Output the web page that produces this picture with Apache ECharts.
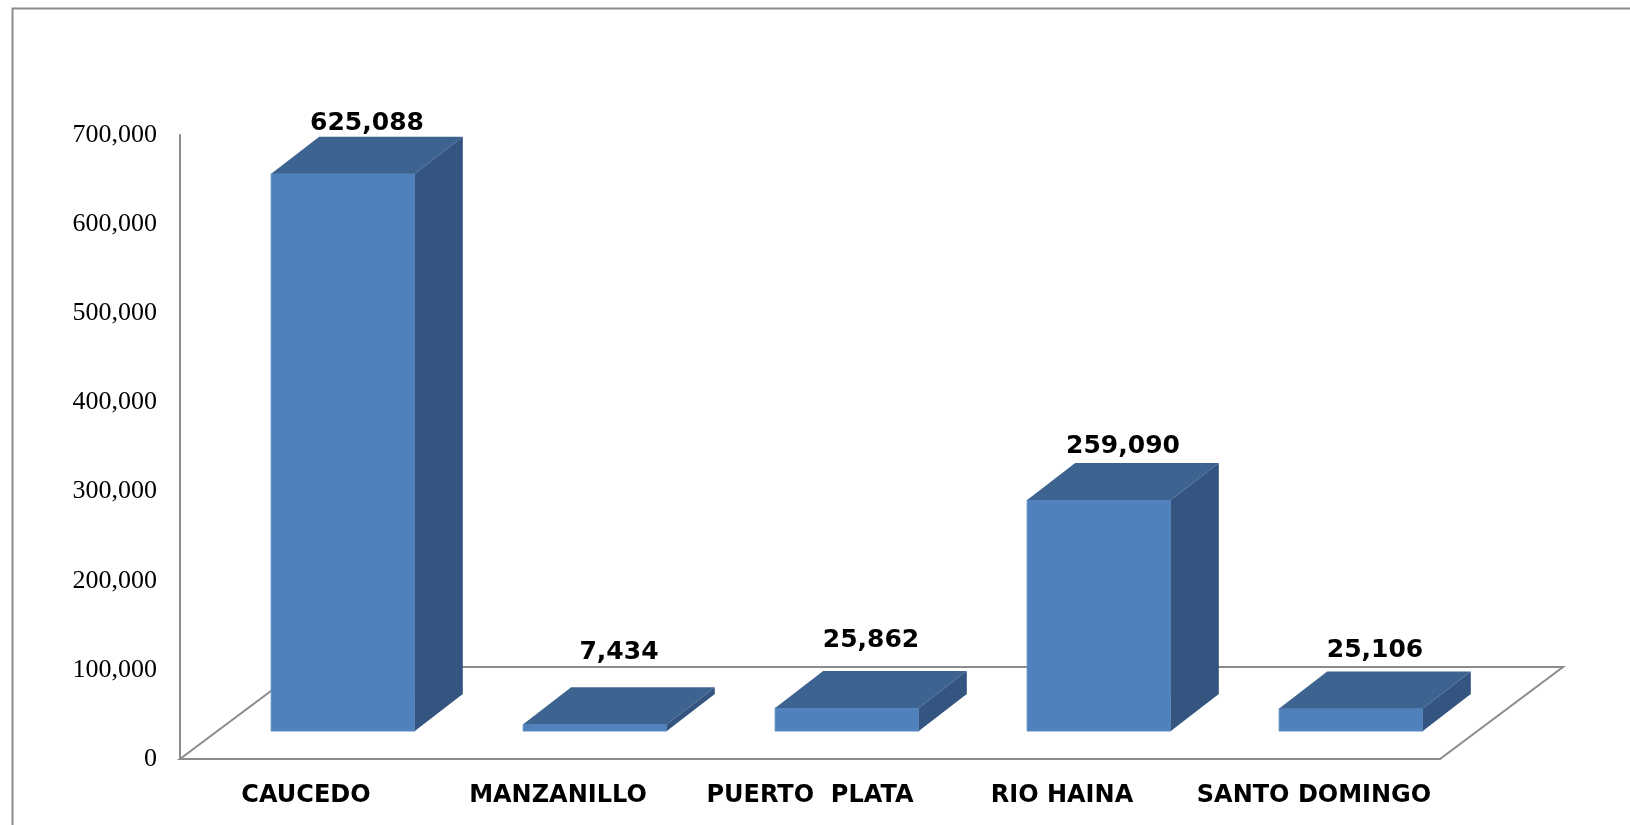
<!DOCTYPE html>
<html>
<head>
<meta charset="utf-8">
<script src="https://cdn.jsdelivr.net/npm/echarts@6/dist/echarts.min.js"></script>
<style>
  html, body { margin: 0; padding: 0; background: #fff; }
  #main { width: 1630px; height: 825px; }
</style>
</head>
<body>
<div id="main"></div>
<script>
// datos
const puertos = ['CAUCEDO', 'MANZANILLO', 'PUERTO  PLATA', 'RIO HAINA', 'SANTO DOMINGO'];
const valores = [625088, 7434, 25862, 259090, 25106];
const ejeMax = 700000;
const ejePaso = 100000;

// estilo 3d
const OX = 37, OY = -28;      // desplazamiento de la cara frontal (profundidad media)
const DX = 48, DY = -37;      // profundidad de la barra
const FX = 123, FY = -92;     // profundidad del piso
const labelGap = [1, 22, 18, 4, 9];
const colFront = '#4f81bd', colTop = '#3d6390', colSide = '#34557f';
const gris = '#8c8c8c';

const chart = echarts.init(document.getElementById('main'));

function fmt(n) {
  return n.toString().replace(/\B(?=(\d{3})+(?!\d))/g, ',');
}

const option = {
  animation: false,
  backgroundColor: '#fff',
  graphic: [{
    type: 'rect',
    left: 10, top: 6,
    shape: { width: 1660, height: 860 },
    style: { fill: 'none', stroke: gris, lineWidth: 2 },
    z: -10
  }],
  grid: { left: 180, top: 135, width: 1260, height: 624 },
  xAxis: {
    type: 'category',
    data: puertos,
    axisLine: { show: false },
    axisTick: { show: false },
    axisLabel: {
      interval: 0,
      margin: 25,
      color: '#000',
      fontFamily: 'DejaVu Sans',
      fontWeight: 'bold',
      fontSize: 24
    }
  },
  yAxis: {
    type: 'value',
    min: 0,
    max: ejeMax,
    interval: ejePaso,
    axisLine: { show: true, lineStyle: { color: gris, width: 2 } },
    axisTick: { show: false },
    splitLine: { show: false },
    axisLabel: {
      margin: 23,
      color: '#000',
      fontFamily: 'Liberation Serif',
      fontSize: 26,
      formatter: function (v) { return fmt(v); }
    }
  },
  series: [
    {
      // piso
      type: 'custom',
      data: [[0, 0]],
      silent: true,
      z: 1,
      renderItem: function (params, api) {
        const c = params.coordSys;
        const yb = c.y + c.height;
        return {
          type: 'polygon',
          shape: {
            points: [
              [c.x, yb], [c.x + c.width, yb],
              [c.x + c.width + FX, yb + FY], [c.x + FX, yb + FY]
            ]
          },
          style: { fill: 'none', stroke: gris, lineWidth: 2 }
        };
      }
    },
    {
      // barras 3d
      type: 'custom',
      data: valores.map(function (v, i) { return [i, v]; }),
      z: 2,
      renderItem: function (params, api) {
        const i = api.value(0), v = api.value(1);
        const base = api.coord([i, 0]);
        const top = api.coord([i, v]);
        const bw = api.size([1, 0])[0] * 0.57;
        const x0 = base[0] - bw / 2 + OX, x1 = x0 + bw;
        const yb = base[1] + OY, yt = top[1] + OY;
        return {
          type: 'group',
          children: [
            {
              type: 'rect',
              shape: { x: x0, y: yt, width: bw, height: yb - yt },
              style: { fill: colFront, stroke: '#5a8ac4', lineWidth: 1 }
            },
            {
              type: 'polygon',
              shape: { points: [[x0, yt], [x1, yt], [x1 + DX, yt + DY], [x0 + DX, yt + DY]] },
              style: { fill: colTop }
            },
            {
              type: 'polygon',
              shape: { points: [[x1, yt], [x1 + DX, yt + DY], [x1 + DX, yb + DY], [x1, yb]] },
              style: { fill: colSide }
            },
            {
              type: 'text',
              style: {
                x: (x0 + x1) / 2 + DX / 2,
                y: yt + DY - labelGap[i],
                text: fmt(v),
                align: 'center',
                verticalAlign: 'bottom',
                fill: '#000',
                font: 'bold 25px "DejaVu Sans"'
              }
            }
          ]
        };
      }
    }
  ]
};

chart.setOption(option);
</script>
</body>
</html>
